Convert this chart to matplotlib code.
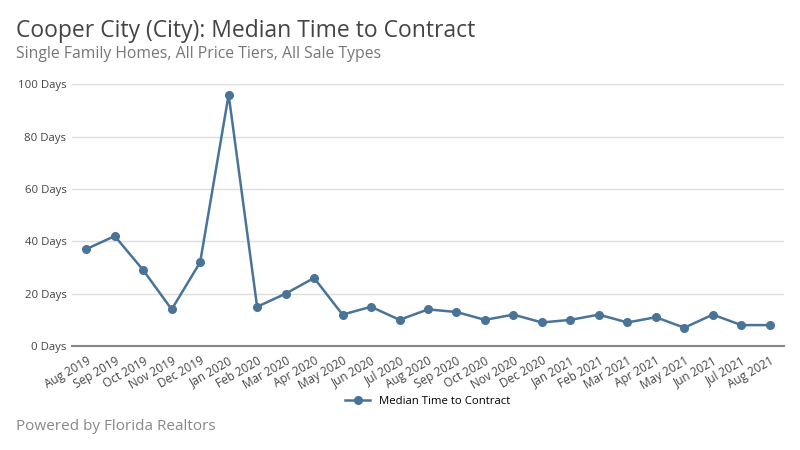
import matplotlib
matplotlib.use("Agg")
from matplotlib import pyplot as plt

months = ["Aug 2019", "Sep 2019", "Oct 2019", "Nov 2019", "Dec 2019",
          "Jan 2020", "Feb 2020", "Mar 2020", "Apr 2020", "May 2020",
          "Jun 2020", "Jul 2020", "Aug 2020", "Sep 2020", "Oct 2020",
          "Nov 2020", "Dec 2020", "Jan 2021", "Feb 2021", "Mar 2021",
          "Apr 2021", "May 2021", "Jun 2021", "Jul 2021", "Aug 2021"]
days = [37, 42, 29, 14, 32, 96, 15, 20, 26, 12, 15, 10, 14, 13, 10,
        12, 9, 10, 12, 9, 11, 7, 12, 8, 8]
yticks = [0, 20, 40, 60, 80, 100]

plt.rcParams["font.family"] = ["Open Sans", "DejaVu Sans"]
color = "#4a7398"

fig = plt.figure(figsize=(8, 4.5), dpi=100)
ax = fig.add_axes([0.09, 0.231, 0.89, 0.582])

x = list(range(len(months)))
ax.plot(x, days, color=color, linewidth=1.8, marker="o", markersize=5.5,
        label="Median Time to Contract")

ax.set_xlim(-0.5, len(months) - 0.5)
ax.set_ylim(0, 100)
ax.set_yticks(yticks)
ax.set_yticklabels([f"{v} Days" for v in yticks], fontsize=8.2, color="#444444")
ax.set_xticks(x)
ax.set_xticklabels(months, rotation=30, ha="right", rotation_mode="anchor",
                   fontsize=8.5, color="#444444")
ax.tick_params(axis="both", length=0, pad=4)
ax.tick_params(axis="x", pad=6)

ax.grid(axis="y", color="#dddddd", linewidth=1)
ax.set_axisbelow(True)
for s in ["top", "right", "left"]:
    ax.spines[s].set_visible(False)
ax.spines["bottom"].set_color("#888888")
ax.spines["bottom"].set_linewidth(1.5)

ax.legend(loc="center", bbox_to_anchor=(0.5, -0.21), frameon=False,
          fontsize=8.2, handlelength=2.2)

fig.text(0.02, 0.932, "Cooper City (City): Median Time to Contract",
         fontsize=16.5, color="#444444", va="center")
fig.text(0.02, 0.88, "Single Family Homes, All Price Tiers, All Sale Types",
         fontsize=11.3, color="#777777", va="center")
fig.text(0.02, 0.052, "Powered by Florida Realtors",
         fontsize=11, color="#888888", va="center")

fig.savefig("out.png", dpi=100)
